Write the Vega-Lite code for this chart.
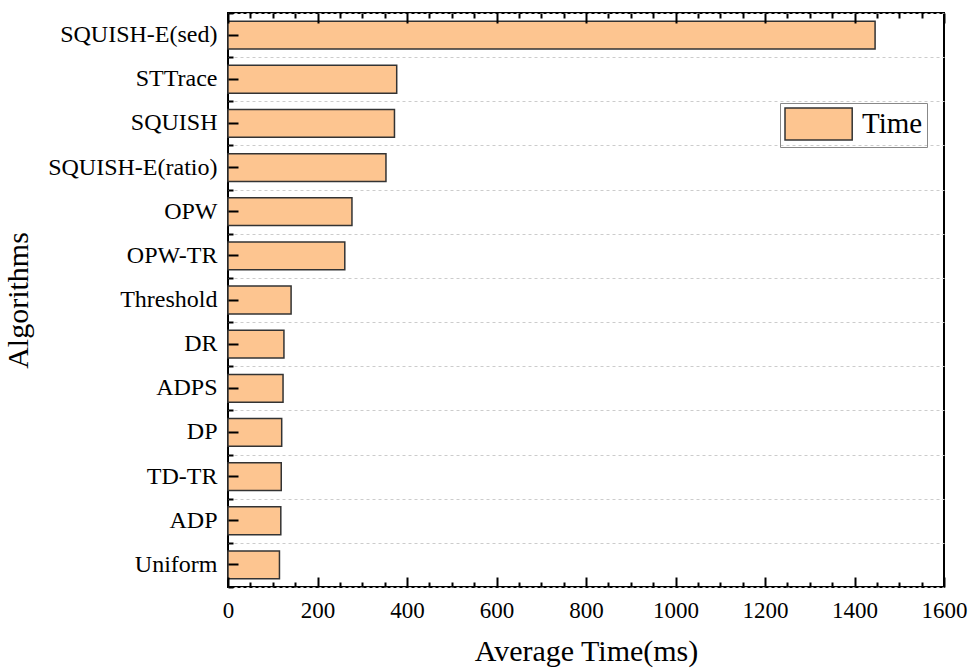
{
  "$schema": "https://vega.github.io/schema/vega-lite/v6.json",
  "width": 716,
  "height": 574,
  "autosize": {"type": "none"},
  "padding": {"left": 228, "top": 13, "right": 26, "bottom": 83},
  "background": "white",
  "config": {
    "view": {"stroke": "black", "strokeWidth": 2},
    "font": "Liberation Serif",
    "axis": {
      "labelFont": "Liberation Serif",
      "titleFont": "Liberation Serif",
      "labelColor": "black",
      "titleColor": "black",
      "titleFontWeight": "normal",
      "labelFontSize": 23,
      "titleFontSize": 30
    }
  },
  "data": {
    "values": [
      {"algorithm": "SQUISH-E(sed)", "time": 1446},
      {"algorithm": "STTrace", "time": 377},
      {"algorithm": "SQUISH", "time": 372},
      {"algorithm": "SQUISH-E(ratio)", "time": 353},
      {"algorithm": "OPW", "time": 277},
      {"algorithm": "OPW-TR", "time": 261},
      {"algorithm": "Threshold", "time": 141},
      {"algorithm": "DR", "time": 125},
      {"algorithm": "ADPS", "time": 123},
      {"algorithm": "DP", "time": 120},
      {"algorithm": "TD-TR", "time": 119},
      {"algorithm": "ADP", "time": 118},
      {"algorithm": "Uniform", "time": 115}
    ]
  },
  "layer": [
    {
      "mark": {"type": "bar", "opacity": 0, "strokeOpacity": 0},
      "encoding": {
        "y": {
          "field": "algorithm", "type": "nominal", "sort": null,
          "scale": {"paddingInner": 0, "paddingOuter": 0},
          "axis": {
            "orient": "left", "title": null, "labels": false, "ticks": false, "domain": false,
            "tickBand": "extent",
            "grid": true, "gridDash": [3, 3], "gridColor": "#cccccc", "gridWidth": 1
          }
        },
        "x": {
          "field": "time", "type": "quantitative",
          "scale": {"domain": [0, 1600], "nice": false},
          "axis": {
            "orient": "top", "title": null, "labels": false, "grid": false, "domain": false,
            "values": [0,200,400,600,800,1000,1200,1400,1600],
            "ticks": true, "tickColor": "black", "tickWidth": 2, "tickSize": 10, "offset": -10, "zindex": 2
          }
        }
      }
    },
    {
      "mark": {"type": "bar", "opacity": 0, "strokeOpacity": 0},
      "encoding": {
        "y": {
          "field": "algorithm", "type": "nominal", "sort": null,
          "axis": {
            "orient": "left", "title": null, "labels": false, "grid": false, "domain": false,
            "tickBand": "extent", "ticks": true, "tickColor": "black", "tickWidth": 2, "tickSize": 5, "offset": -5, "zindex": 2
          }
        },
        "x": {
          "field": "time", "type": "quantitative",
          "axis": {
            "orient": "top", "title": null, "labels": false, "grid": false, "domain": false,
            "values": [50,100,150,250,300,350,450,500,550,650,700,750,850,900,950,1050,1100,1150,1250,1300,1350,1450,1500,1550],
            "ticks": true, "tickColor": "black", "tickWidth": 2, "tickSize": 5, "offset": -5, "zindex": 2
          }
        }
      }
    },
    {
      "mark": {"type": "bar", "opacity": 0, "strokeOpacity": 0},
      "encoding": {
        "y": {"field": "algorithm", "type": "nominal", "sort": null, "axis": null},
        "x": {
          "field": "time", "type": "quantitative",
          "axis": {
            "orient": "bottom", "title": null, "labels": false, "grid": false, "domain": false,
            "values": [50,100,150,250,300,350,450,500,550,650,700,750,850,900,950,1050,1100,1150,1250,1300,1350,1450,1500,1550],
            "ticks": true, "tickColor": "black", "tickWidth": 2, "tickSize": 5, "offset": -5, "zindex": 2
          }
        }
      }
    },
    {
      "mark": {"type": "bar", "stroke": "#333333", "strokeWidth": 1.5, "height": {"band": 0.63}},
      "encoding": {
        "y": {
          "field": "algorithm", "type": "nominal", "sort": null,
          "axis": {
            "orient": "left", "title": "Algorithms", "grid": false, "domain": false,
            "ticks": true, "tickColor": "black", "tickWidth": 2, "tickSize": 10, "offset": -10, "zindex": 2,
            "labelFontSize": 24, "labelPadding": 11, "titlePadding": 14
          }
        },
        "x": {
          "field": "time", "type": "quantitative",
          "axis": {
            "orient": "bottom", "title": "Average Time(ms)", "format": "d", "grid": false, "domain": false,
            "values": [0,200,400,600,800,1000,1200,1400,1600],
            "ticks": true, "tickColor": "black", "tickWidth": 2, "tickSize": 10, "offset": -10, "zindex": 2,
            "labelPadding": 12, "titlePadding": 14, "labelFlush": false
          }
        },
        "color": {
          "datum": "Time",
          "scale": {"range": ["#FDC590"]},
          "legend": {
            "title": null,
            "orient": "none",
            "legendX": 552,
            "legendY": 90,
            "symbolType": "M-1,-1H3.2V1H-1Z",
            "symbolSize": 1024,
            "symbolStrokeColor": "#333333",
            "symbolStrokeWidth": 1.5,
            "labelFont": "Liberation Serif",
            "labelFontSize": 29,
            "labelColor": "black",
            "labelOffset": 44,
            "strokeColor": "#888888",
            "padding": 4
          }
        }
      }
    }
  ],
  "resolve": {"axis": {"x": "independent", "y": "independent"}}
}
